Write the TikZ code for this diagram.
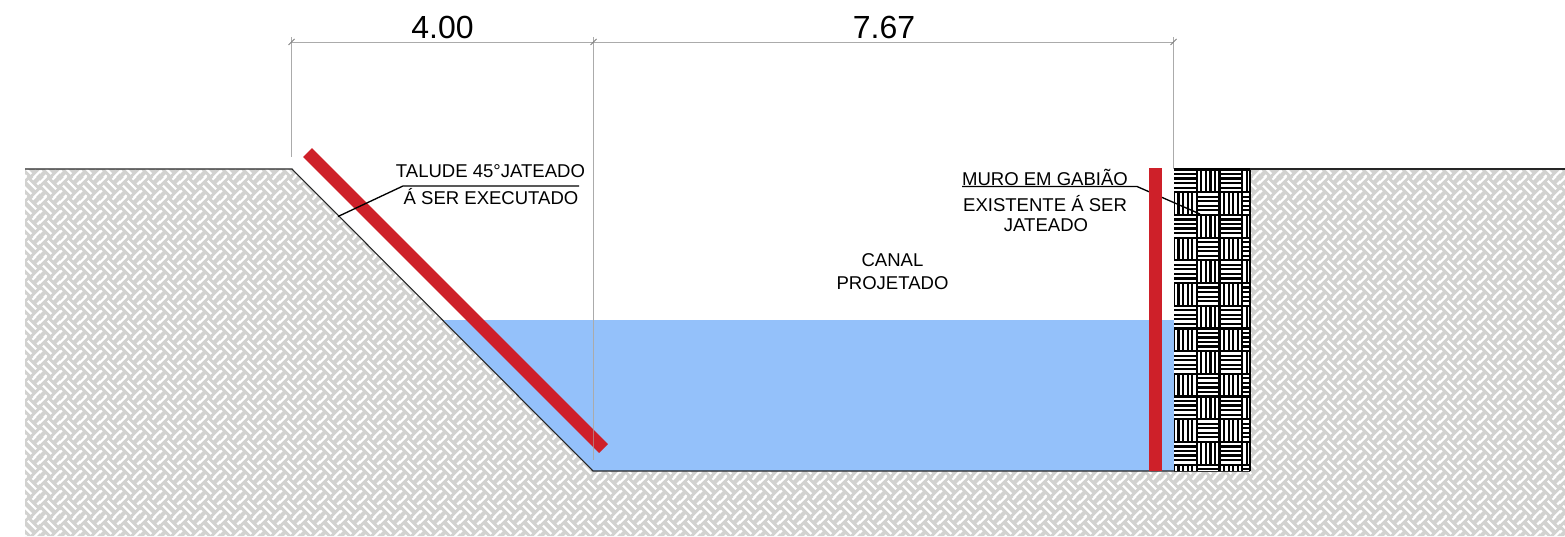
\documentclass[tikz,border=0pt]{standalone}
\usepackage{fontspec}
\setmainfont{Liberation Sans}
\usetikzlibrary{patterns}
\newcommand\wvseg[4]{\pgfpathmoveto{\pgfqpoint{\dimexpr #1\relax}{\dimexpr #2\relax}}\pgfpathlineto{\pgfqpoint{\dimexpr #3\relax}{\dimexpr #4\relax}}}
\newcommand\wvA[2]{%
  \wvseg{#1pt-5.17pt}{#2pt-1.43pt}{#1pt+1.43pt}{#2pt+5.17pt}%
  \wvseg{#1pt-1.43pt}{#2pt-5.17pt}{#1pt+5.17pt}{#2pt+1.43pt}}
\newcommand\wvB[2]{%
  \wvseg{#1pt-1.43pt}{#2pt+5.17pt}{#1pt+5.17pt}{#2pt-1.43pt}%
  \wvseg{#1pt-5.17pt}{#2pt+1.43pt}{#1pt+1.43pt}{#2pt-5.17pt}}
\pgfdeclarepatternformonly{wvground}{\pgfqpoint{0pt}{0pt}}{\pgfqpoint{15pt}{15pt}}{\pgfqpoint{15pt}{15pt}}{%
  \pgfsetlinewidth{1.7pt}%
  \wvA{0}{0}\wvA{15}{0}\wvA{0}{15}\wvA{15}{15}\wvB{7.5}{7.5}%
  \pgfusepath{stroke}}
\definecolor{groundgrey}{HTML}{D2D2D0}
\definecolor{waterblue}{HTML}{94C1FA}
\definecolor{barred}{HTML}{CE2029}
\definecolor{dimgrey}{HTML}{ABABAB}
\tikzset{
  dimline/.style={draw=dimgrey,line width=0.75pt},
  dimtick/.style={draw=gray,line width=0.75pt},
  leader/.style={draw=black,line width=1pt},
  redbar/.style={draw=barred,line width=9.5pt},
  outline/.style={draw=black!85,line width=0.8pt},
  dimtext/.style={inner sep=0pt,font=\fontsize{24}{26}\selectfont},
  note/.style={inner sep=0pt,font=\fontsize{13.9}{16}\selectfont},
}
\begin{document}
\begin{tikzpicture}[x=0.75pt,y=-0.75pt]
\useasboundingbox (0,0) rectangle (1565,536);
% ground
\fill[groundgrey] (25,169) -- (292,169) -- (593,471) -- (1250,471) -- (1250,169) -- (1565,169) -- (1565,536) -- (25,536) -- cycle;
\fill[pattern=wvground,pattern color=white] (25,169) -- (292,169) -- (593,471) -- (1250,471) -- (1250,169) -- (1565,169) -- (1565,536) -- (25,536) -- cycle;
% water
\fill[waterblue] (443,320) -- (1174,320) -- (1174,471) -- (593,471) -- cycle;
% gabion
\fill[white] (1174,169) rectangle (1250,471);
\begin{scope}
\clip (1174,168.5) rectangle (1250,471);
\foreach \rw in {-1,...,13}{
  \foreach \cl in {0,...,3}{
    \pgfmathsetmacro{\xa}{1174+\cl*22.75}
    \pgfmathsetmacro{\ya}{169.5+\rw*22.7}
    \pgfmathtruncatemacro{\prt}{mod(\rw+\cl+2,2)}
    \foreach \k in {0,...,5}{
      \ifnum\prt=0
        \draw[black,line width=1.65pt] (\xa,\ya+\k*4.54) -- (\xa+22.75,\ya+\k*4.54);
      \else
        \draw[black,line width=1.65pt] (\xa+\k*4.55,\ya) -- (\xa+\k*4.55,\ya+22.7);
      \fi
    }
  }
}
\end{scope}
\draw[black!80,line width=0.7pt] (1174,471) -- (1250,471);
\draw[black,line width=1pt] (1250,169) -- (1250,471);
% ground outlines
\draw[outline] (25,169) -- (292,169) -- (593,471) -- (1174,471);
\draw[outline] (1250,169) -- (1565,169);
% dimensions
\coordinate (d1t) at (291.5,37);
\coordinate (d1b) at (291.5,157);
\coordinate (d2t) at (593.5,37);
\coordinate (d2b) at (593.5,460);
\coordinate (d3t) at (1173.5,37);
\coordinate (d3b) at (1173.5,169);
\coordinate (d1m) at (291.5,42);
\coordinate (d2m) at (593.5,42);
\coordinate (d3m) at (1173.5,42);
\draw[dimline] (d1t) -- (d1b);
\draw[dimline] (d2t) -- (d2b);
\draw[dimline] (d3t) -- (d3b);
\draw[dimline] (d1m) -- (d3m);
\draw[dimtick] ([shift={(-3,3)}]d1m) -- ([shift={(3,-3)}]d1m);
\draw[dimtick] ([shift={(-3,3)}]d2m) -- ([shift={(3,-3)}]d2m);
\draw[dimtick] ([shift={(-3,3)}]d3m) -- ([shift={(3,-3)}]d3m);
% leader behind the vertical bar
\coordinate (m1) at (962,186.5);
\coordinate (m2) at (1137,186.5);
\coordinate (m3) at (1200,214);
\draw[leader] (m1) -- (m2) -- (m3);
% bars
\coordinate (ra) at (307.5,152.5);
\coordinate (rb) at (603.5,448.5);
\coordinate (rc) at (1155.5,168);
\coordinate (rd) at (1155.5,471);
\draw[redbar] (ra) -- (rb);
\draw[redbar] (rc) -- (rd);
% dimension line over the bar bottom
\draw[dimline,opacity=.6] (593.5,420) -- (d2b);
% leader over the slope bar
\coordinate (t1) at (338,216.5);
\coordinate (t2) at (403,186);
\coordinate (t3) at (579,186);
\draw[leader] (t1) -- (t2) -- (t3);
% texts
\node[dimtext] (dimA) at (442.5,27) {4.00};
\node[dimtext] (dimB) at (884,27) {7.67};
\node[note] (ta) at (490.5,171.5) {TALUDE 45°JATEADO};
\node[note] (tb) at (491,197) {Á SER EXECUTADO};
\node[note] (ma) at (1045,177.5) {MURO EM GABIÃO};
\node[note] (mb) at (1045,203.5) {EXISTENTE Á SER};
\node[note] (mc) at (1046,225.5) {JATEADO};
\node[note] (ca) at (892.5,260.5) {CANAL};
\node[note] (cb) at (892.5,283.5) {PROJETADO};
\end{tikzpicture}
\end{document}
